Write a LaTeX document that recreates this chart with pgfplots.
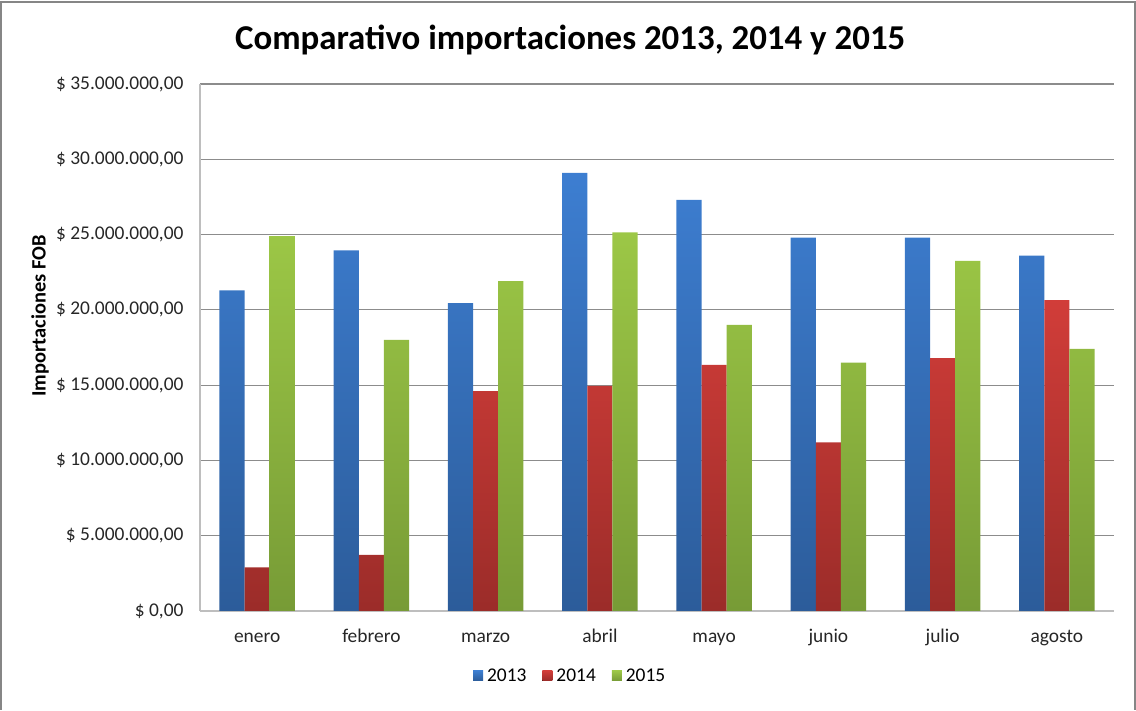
\documentclass[border=0pt]{standalone}
\usepackage{fontspec}
\setmainfont{Carlito}
\usepackage{pgfplots}
\pgfplotsset{compat=1.18}
\definecolor{bTop}{HTML}{3D7ED1}
\definecolor{bBot}{HTML}{2C5C9A}
\definecolor{rTop}{HTML}{D13D39}
\definecolor{rBot}{HTML}{9B2C29}
\definecolor{gTop}{HTML}{9CC746}
\definecolor{gBot}{HTML}{779B36}
\definecolor{gridc}{HTML}{8C8C8C}
\definecolor{axisc}{HTML}{BEBEBE}
\definecolor{framec}{HTML}{868686}
\begin{document}
\begin{tikzpicture}[x=1bp,y=1bp]
\path (0,0) rectangle (1136,705);
\draw[framec,line width=1.5bp] (1,-5) -- (1,703) -- (1135,703) -- (1135,-5);
\begin{axis}[
  at={(200bp,94bp)}, anchor=south west,
  scale only axis, width=914bp, height=527bp,
  ybar=0pt, bar width=0.22,
  xmin=-0.5, xmax=7.5, ymin=0, ymax=35,
  xtick={0,...,7},
  xticklabels={enero,febrero,marzo,abril,mayo,junio,julio,agosto},
  ytick={0,5,...,35},
  yticklabels={{\$ 0,00},{\$ 5.000.000,00},{\$ 10.000.000,00},{\$ 15.000.000,00},{\$ 20.000.000,00},{\$ 25.000.000,00},{\$ 30.000.000,00},{\$ 35.000.000,00}},
  axis x line*=bottom, axis y line*=left,
  axis line style={axisc,line width=1.5bp,-},
  ymajorgrids, grid style={gridc,line width=1.2bp},
  major tick length=0pt,
  tick label style={font=\fontsize{19.5}{23}\selectfont, text=black!85},
  yticklabel style={xshift=-13bp},
  xticklabel style={anchor=base, yshift=-32bp},
  ylabel={\textbf{Importaciones FOB}},
  ylabel style={font=\fontsize{20.5}{24}\selectfont, at={(axis description cs:-0.175,0.56)}, anchor=center, rotate=0},
  title={\textbf{Comparativo importaciones 2013, 2014 y 2015}},
  title style={font=\fontsize{35}{42}\selectfont, at={(0.405,1)}, anchor=south, yshift=20bp},
  legend columns=-1,
  legend style={draw=none, fill=none, font=\fontsize{19.5}{23}\selectfont, at={(0.405,-0.123)}, anchor=center,
    /tikz/every odd column/.append style={column sep=2bp},
    /tikz/every even column/.append style={column sep=14bp}},
  legend image code/.code={\fill[#1] (0bp,-5bp) rectangle (10bp,5bp);},
]
\addplot[draw=none, top color=bTop, bottom color=bBot] coordinates {(0,21.3) (1,23.95) (2,20.45) (3,29.1) (4,27.3) (5,24.8) (6,24.8) (7,23.6)};
\addplot[draw=none, top color=rTop, bottom color=rBot] coordinates {(0,2.9) (1,3.72) (2,14.6) (3,14.95) (4,16.35) (5,11.2) (6,16.8) (7,20.65)};
\addplot[draw=none, top color=gTop, bottom color=gBot] coordinates {(0,24.9) (1,18.0) (2,21.9) (3,25.15) (4,19.0) (5,16.5) (6,23.25) (7,17.4)};
\legend{2013,2014,2015}
\end{axis}
\end{tikzpicture}
\end{document}
